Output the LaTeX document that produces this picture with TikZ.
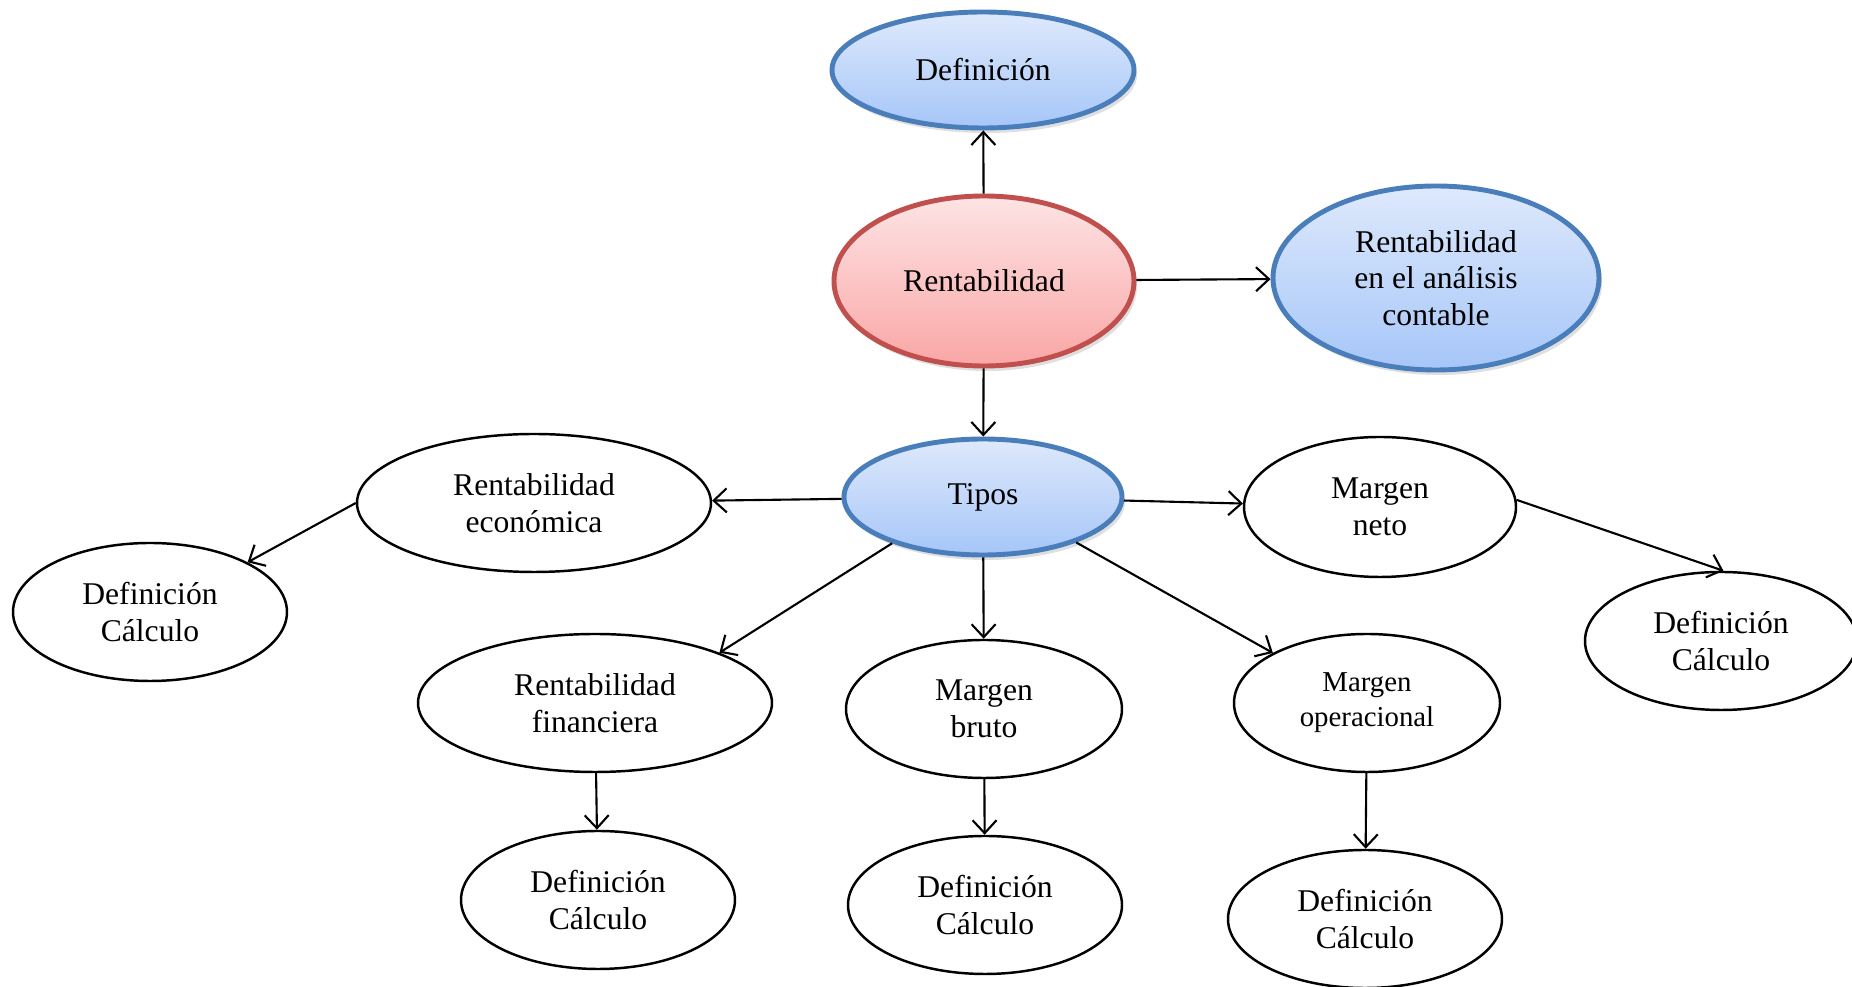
\documentclass[tikz,border=0pt]{standalone}
\usepackage{fontspec}
\setmainfont{Liberation Serif}
\usetikzlibrary{arrows.meta,shapes,shadows}

\definecolor{blueline}{RGB}{74,126,187}
\definecolor{bluetop}{RGB}{222,233,252}
\definecolor{bluebot}{RGB}{166,198,248}
\definecolor{redline}{RGB}{192,80,77}
\definecolor{redtop}{RGB}{253,228,228}
\definecolor{redbot}{RGB}{250,166,166}

\begin{document}
\begin{tikzpicture}[
  every node/.style={font=\fontsize{9}{10.4}\selectfont,align=center,inner sep=0pt},
  bubble/.style={draw,ellipse,line width=0.7pt},
  bluebubble/.style={draw=blueline,ellipse,line width=1.4pt,top color=bluetop,bottom color=bluebot,
    drop shadow={opacity=0.25,shadow xshift=0.03,shadow yshift=-0.05}},
  redbubble/.style={draw=redline,ellipse,line width=1.4pt,top color=redtop,bottom color=redbot,
    drop shadow={opacity=0.25,shadow xshift=0.03,shadow yshift=-0.05}},
  link/.style={-{Straight Barb[length=1.3mm,width=2.4mm]},line width=0.6pt}]
\useasboundingbox (0,0) rectangle (18.52,9.87);
\node[bluebubble,minimum width=3.02cm,minimum height=1.16cm] (n0) at (9.83,9.17) {Definición};
\node[redbubble,minimum width=3.00cm,minimum height=1.70cm] (n1) at (9.84,7.06) {Rentabilidad};
\node[bluebubble,minimum width=3.26cm,minimum height=1.84cm] (n2) at (14.36,7.09) {Rentabilidad\\en el análisis\\contable};
\node[bluebubble,minimum width=2.78cm,minimum height=1.16cm] (n3) at (9.83,4.90) {Tipos};
\node[bubble,minimum width=3.54cm,minimum height=1.38cm] (n4) at (5.34,4.84) {Rentabilidad\\económica};
\node[bubble,minimum width=2.74cm,minimum height=1.38cm] (n5) at (1.50,3.75) {Definición\\Cálculo};
\node[bubble,minimum width=2.72cm,minimum height=1.40cm] (n6) at (13.80,4.80) {Margen\\neto};
\node[bubble,minimum width=2.72cm,minimum height=1.38cm] (n7) at (17.21,3.46) {Definición\\Cálculo};
\node[bubble,minimum width=3.54cm,minimum height=1.38cm] (n8) at (5.95,2.84) {Rentabilidad\\financiera};
\node[bubble,minimum width=2.76cm,minimum height=1.38cm] (n9) at (9.84,2.78) {Margen\\bruto};
\node[bubble,minimum width=2.66cm,minimum height=1.38cm,font=\fontsize{8.2}{10}\selectfont] (n10) at (13.67,2.84) {Margen\\operacional};
\node[bubble,minimum width=2.74cm,minimum height=1.38cm] (n11) at (5.98,0.87) {Definición\\Cálculo};
\node[bubble,minimum width=2.74cm,minimum height=1.38cm] (n12) at (9.85,0.82) {Definición\\Cálculo};
\node[bubble,minimum width=2.74cm,minimum height=1.38cm] (n13) at (13.65,0.68) {Definición\\Cálculo};
\draw[link] (n1) -- (n0);
\draw[link] (n1) -- (n2);
\draw[link] (n1) -- (n3);
\draw[link] (n3) -- (n4);
\draw[link] (n3) -- (n6);
\draw[link] (n3.207) -- (n8.22);
\draw[link] (n3) -- (n9);
\draw[link] (n3.334) -- (n10.152);
\draw[link] (n4.west) -- (n5.27);
\draw[link] (n6.3) -- (n7.88);
\draw[link] (n8) -- (n11);
\draw[link] (n9) -- (n12);
\draw[link] (n10) -- (n13);
\end{tikzpicture}
\end{document}
